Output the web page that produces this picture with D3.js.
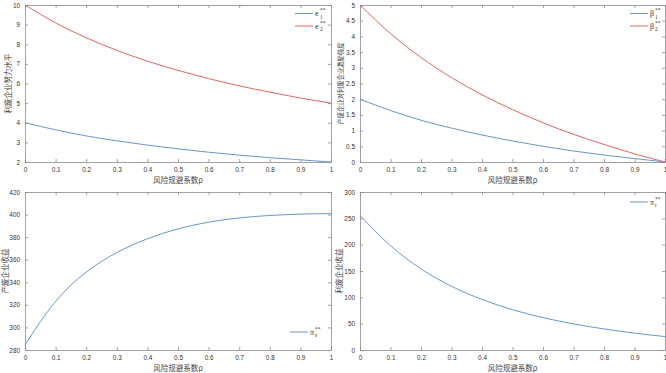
<!DOCTYPE html>
<html>
<head>
<meta charset="utf-8">
<script src="https://cdn.jsdelivr.net/npm/d3@7"></script>
<style>
  body { margin: 0; background: #fff; }
  svg { display: block; }
  .tick text { font-family: "Liberation Sans", Arial, sans-serif; font-size: 6.4px; fill: #333; }
  .ylab, .xlab { font-family: "Noto Sans CJK SC", sans-serif; fill: #444; }
  .leg { font-family: "Liberation Serif", "DejaVu Serif", serif; fill: #333; }
</style>
</head>
<body>
<div id="chart"></div>
<script>
// Four panels versus the risk aversion coefficient rho

const rho = [0, 0.1, 0.2, 0.3, 0.4, 0.5, 0.6, 0.7, 0.8, 0.9, 1];
const rhoFine = [0, 0.05, 0.1, 0.15, 0.2, 0.25, 0.3, 0.35, 0.4, 0.45, 0.5,
  0.55, 0.6, 0.65, 0.7, 0.75, 0.8, 0.85, 0.9, 0.95, 1];

// effort level
const e1 = [4, 3.64, 3.33, 3.08, 2.86, 2.67, 2.5, 2.35, 2.22, 2.11, 2.0];
const e2 = [10, 9.09, 8.33, 7.69, 7.14, 6.67, 6.25, 5.88, 5.56, 5.26, 5.0];

// incentive intensity
const beta1 = [2, 1.64, 1.33, 1.08, 0.86, 0.67, 0.5, 0.35, 0.22, 0.11, 0];
const beta2 = [5, 4.09, 3.33, 2.69, 2.14, 1.67, 1.25, 0.88, 0.56, 0.26, 0];

// producer profit
const piS = [284.4, 305, 323, 337.5, 349, 358.5, 366.3, 373, 378.5, 383.3, 387.3,
  390.6, 393.3, 395.4, 397, 398.3, 399.2, 399.9, 400.4, 400.7, 400.8];

// recycler profit
const piR = [255.7, 198, 154, 121, 96, 76.5, 61.5, 49.5, 40, 32, 25.5];

const xTicks = [0, 0.1, 0.2, 0.3, 0.4, 0.5, 0.6, 0.7, 0.8, 0.9, 1];
const yTicks1 = [2, 3, 4, 5, 6, 7, 8, 9, 10];
const yTicks2 = [0, 0.5, 1, 1.5, 2, 2.5, 3, 3.5, 4, 4.5, 5];
const yTicks3 = [280, 300, 320, 340, 360, 380, 400, 420];
const yTicks4 = [0, 50, 100, 150, 200, 250, 300];

const blue = "#6a95d6";
const red = "#e5665e";
const axisColor = "#8a8a8a";

const svg = d3.select("#chart").append("svg")
  .attr("width", 666)
  .attr("height", 373);

const panels = [
  { box: [25, 331, 5, 162], ylab: "利废企业努力水平", ylabX: 8, ylabSize: 7.5,
    yTicks: yTicks1, yDomain: [2, 10],
    series: [{ x: rho, y: e1, color: blue, base: "e", sub: "1" },
             { x: rho, y: e2, color: red, base: "e", sub: "2" }],
    legend: [295, 13.5] },
  { box: [360, 665, 5, 162], ylab: "产废企业对利废企业激励强度", ylabX: 341, ylabSize: 6.3,
    yTicks: yTicks2, yDomain: [0, 5],
    series: [{ x: rho, y: beta1, color: blue, base: "β", sub: "1" },
             { x: rho, y: beta2, color: red, base: "β", sub: "2" }],
    legend: [630, 13.5] },
  { box: [25, 331, 192, 350], ylab: "产废企业收益", ylabX: 5, ylabSize: 7.5,
    yTicks: yTicks3, yDomain: [280, 420],
    series: [{ x: rhoFine, y: piS, color: blue, base: "π", sub: "s" }],
    legend: [290, 332] },
  { box: [360, 665, 192, 350], ylab: "利废企业收益", ylabX: 339, ylabSize: 7.5,
    yTicks: yTicks4, yDomain: [0, 300],
    series: [{ x: rho, y: piR, color: blue, base: "π", sub: "r" }],
    legend: [630, 202] }
];

panels.forEach(drawPanel);

function drawPanel(p) {
  const [x0, x1, y0, y1] = p.box;
  const xScale = d3.scaleLinear().domain([0, 1]).range([x0, x1]);
  const yScale = d3.scaleLinear().domain(p.yDomain).range([y1, y0]);
  const g = svg.append("g");

  // axes, ticks inward, box mirrored
  const tk = 3;
  const axes = [
    [d3.axisBottom(xScale).tickValues(xTicks).tickSizeInner(-tk).tickSizeOuter(0).tickPadding(5).tickFormat(d3.format("~g")), `translate(0 ${y1})`],
    [d3.axisTop(xScale).tickValues(xTicks).tickSizeInner(-tk).tickSizeOuter(0).tickFormat(""), `translate(0 ${y0})`],
    [d3.axisLeft(yScale).tickValues(p.yTicks).tickSizeInner(-tk).tickSizeOuter(0).tickPadding(5).tickFormat(d3.format("~g")), `translate(${x0} 0)`],
    [d3.axisRight(yScale).tickValues(p.yTicks).tickSizeInner(-tk).tickSizeOuter(0).tickFormat(""), `translate(${x1} 0)`]
  ];
  axes.forEach(([ax, tr]) => {
    const a = g.append("g").attr("transform", tr).call(ax);
    a.selectAll("path, line").attr("stroke", axisColor).attr("stroke-width", 0.8);
  });

  // curves
  const line = d3.line().curve(d3.curveMonotoneX);
  p.series.forEach(s => {
    g.append("path")
      .datum(s.x.map((v, i) => [xScale(v), yScale(s.y[i])]))
      .attr("d", line)
      .attr("fill", "none")
      .attr("stroke", s.color)
      .attr("stroke-width", 1);
  });

  // labels
  g.append("text").attr("class", "xlab")
    .attr("x", (x0 + x1) / 2).attr("y", y1 + 21)
    .attr("font-size", 7.5)
    .attr("text-anchor", "middle")
    .text("风险规避系数ρ");

  g.append("text").attr("class", "ylab")
    .attr("transform", `translate(${p.ylabX} ${(y0 + y1) / 2}) rotate(-90)`)
    .attr("font-size", p.ylabSize)
    .attr("dy", "0.35em")
    .attr("text-anchor", "middle")
    .text(p.ylab);

  // legend (no box)
  const [lx, ly] = p.legend;
  p.series.forEach((s, i) => {
    const yy = ly + i * 12.5;
    g.append("line")
      .attr("x1", lx).attr("x2", lx + 18)
      .attr("y1", yy).attr("y2", yy)
      .attr("stroke", s.color).attr("stroke-width", 1);
    g.append("text").attr("class", "leg")
      .attr("x", lx + 20).attr("y", yy + 2.5)
      .attr("font-size", 8).text(s.base);
    g.append("text").attr("class", "leg")
      .attr("x", lx + 25).attr("y", yy - 1.5)
      .attr("font-size", 5.5).text("**");
    g.append("text").attr("class", "leg")
      .attr("x", lx + 25).attr("y", yy + 5)
      .attr("font-size", 5.5).text(s.sub);
  });
}
</script>
</body>
</html>
